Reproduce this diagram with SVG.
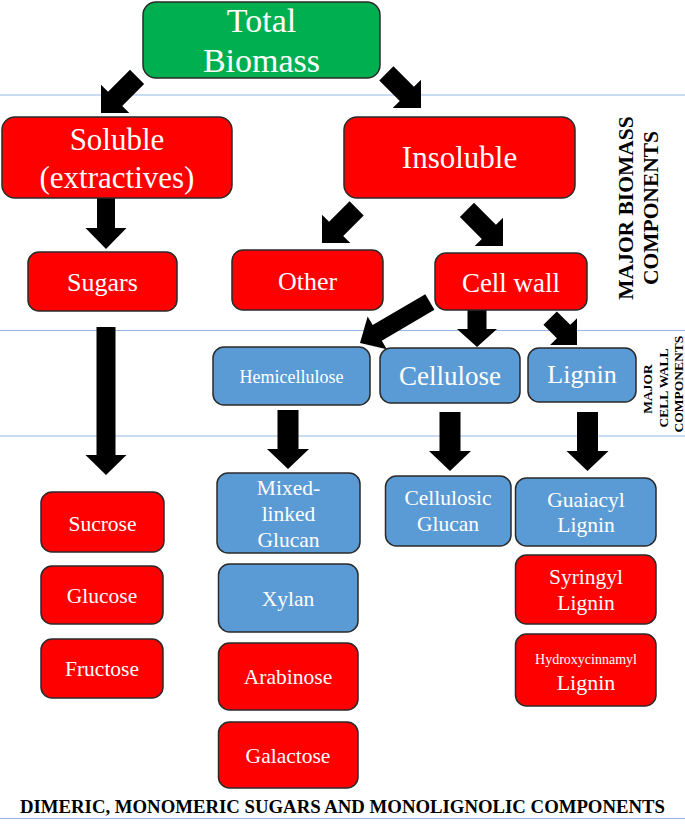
<svg xmlns="http://www.w3.org/2000/svg" width="685" height="824" viewBox="0 0 685 824">
<style>
.bg{fill:#ffffff}
.hl{stroke:#95b9e4;stroke-width:1.2;fill:none}
.box{stroke:#2a2a2a;stroke-width:1.5}
.g{fill:#00b050}
.r{fill:#ff0000}
.b{fill:#5b9bd5}
.t{font-family:"Liberation Serif","Times New Roman",serif;fill:#ffffff;text-anchor:middle}
.lab{font-family:"Liberation Serif","Times New Roman",serif;fill:#000000;font-weight:bold;text-anchor:middle}
.arr{fill:#000000}
</style>
<rect class="bg" x="0" y="0" width="685" height="824"/>
<g id="guides">
<line class="hl" x1="0" y1="95" x2="685" y2="95"/>
<line class="hl" x1="0" y1="330.5" x2="685" y2="330.5"/>
<line class="hl" x1="0" y1="436" x2="685" y2="436"/>
<line class="hl" x1="0" y1="818.5" x2="685" y2="818.5"/>
</g>
<g id="connectors">
<polygon class="arr" transform="translate(101,113) rotate(45)" points="-10,-51 10,-51 10,-20 20,-20 0,0 -20,-20 -10,-20"/>
<polygon class="arr" transform="translate(421,108) rotate(-45)" points="-10,-49 10,-49 10,-20 20,-20 0,0 -20,-20 -10,-20"/>
<polygon class="arr" transform="translate(106,249)" points="-9,-51 9,-51 9,-21 20.5,-21 0,0 -20.5,-21 -9,-21"/>
<polygon class="arr" transform="translate(106,475)" points="-9.5,-148 9.5,-148 9.5,-20 20.5,-20 0,0 -20.5,-20 -9.5,-20"/>
<polygon class="arr" transform="translate(322,243) rotate(45)" points="-10,-49 10,-49 10,-20 20,-20 0,0 -20,-20 -10,-20"/>
<polygon class="arr" transform="translate(503,246) rotate(-45)" points="-10,-51 10,-51 10,-20 20,-20 0,0 -20,-20 -10,-20"/>
<polygon class="arr" transform="translate(360,343) rotate(59.6)" points="-9,-81 9,-81 9,-20 19,-20 0,0 -19,-20 -9,-20"/>
<polygon class="arr" transform="translate(477,347)" points="-9.5,-37 9.5,-37 9.5,-18 20,-18 0,0 -20,-18 -9.5,-18"/>
<polygon class="arr" transform="translate(577,345) rotate(-45)" points="-9.5,-38 9.5,-38 9.5,-19 19,-19 0,0 -19,-19 -9.5,-19"/>
<polygon class="arr" transform="translate(288,469)" points="-10.5,-59 10.5,-59 10.5,-20 21,-20 0,0 -21,-20 -10.5,-20"/>
<polygon class="arr" transform="translate(450,471)" points="-10.5,-59 10.5,-59 10.5,-20 21,-20 0,0 -21,-20 -10.5,-20"/>
<polygon class="arr" transform="translate(587.5,471)" points="-10.5,-59 10.5,-59 10.5,-20 21,-20 0,0 -21,-20 -10.5,-20"/>
</g>
<g id="total-biomass">
<rect class="box g" x="143" y="2" width="237" height="76" rx="13"/>
<text class="t" x="261.5" y="32" font-size="34">Total</text>
<text class="t" x="261.5" y="72" font-size="34">Biomass</text>
</g>
<g id="soluble">
<rect class="box r" x="2" y="117" width="230" height="81" rx="13"/>
<text class="t" x="117" y="150" font-size="31">Soluble</text>
<text class="t" x="117" y="188" font-size="31">(extractives)</text>
</g>
<g id="insoluble">
<rect class="box r" x="344" y="117" width="231" height="81" rx="13"/>
<text class="t" x="459.5" y="168" font-size="31">Insoluble</text>
</g>
<g id="sugars">
<rect class="box r" x="28" y="252" width="149" height="59" rx="11"/>
<text class="t" x="102.5" y="291" font-size="26">Sugars</text>
</g>
<g id="other">
<rect class="box r" x="232" y="250" width="151" height="60" rx="11"/>
<text class="t" x="307.5" y="290" font-size="26">Other</text>
</g>
<g id="cell-wall">
<rect class="box r" x="435" y="253" width="152" height="57" rx="11"/>
<text class="t" x="511" y="292" font-size="27">Cell wall</text>
</g>
<g id="hemicellulose">
<rect class="box b" x="213" y="347" width="157" height="58" rx="11"/>
<text class="t" x="291.5" y="383" font-size="18">Hemicellulose</text>
</g>
<g id="cellulose">
<rect class="box b" x="380" y="348" width="140" height="55" rx="11"/>
<text class="t" x="450" y="385" font-size="27">Cellulose</text>
</g>
<g id="lignin">
<rect class="box b" x="528" y="348" width="108" height="54" rx="11"/>
<text class="t" x="582" y="383" font-size="26">Lignin</text>
</g>
<g id="mixed-linked-glucan">
<rect class="box b" x="217" y="473" width="143" height="80" rx="11"/>
<text class="t" x="288.5" y="495" font-size="21.5">Mixed-</text>
<text class="t" x="288.5" y="521" font-size="21.5">linked</text>
<text class="t" x="288.5" y="547" font-size="21.5">Glucan</text>
</g>
<g id="xylan">
<rect class="box b" x="218.5" y="564" width="139.5" height="68" rx="11"/>
<text class="t" x="288" y="606" font-size="21.5">Xylan</text>
</g>
<g id="arabinose">
<rect class="box r" x="218.5" y="643" width="139.5" height="67" rx="11"/>
<text class="t" x="288" y="684" font-size="21.5">Arabinose</text>
</g>
<g id="galactose">
<rect class="box r" x="218.5" y="722" width="139.5" height="66" rx="11"/>
<text class="t" x="288" y="763" font-size="21.5">Galactose</text>
</g>
<g id="cellulosic-glucan">
<rect class="box b" x="385.5" y="476" width="125.5" height="70" rx="11"/>
<text class="t" x="448" y="505" font-size="21.5">Cellulosic</text>
<text class="t" x="448" y="531" font-size="21.5">Glucan</text>
</g>
<g id="guaiacyl-lignin">
<rect class="box b" x="515.5" y="478" width="140.5" height="68" rx="11"/>
<text class="t" x="586" y="507" font-size="21.5">Guaiacyl</text>
<text class="t" x="586" y="532" font-size="21.5">Lignin</text>
</g>
<g id="syringyl-lignin">
<rect class="box r" x="515.5" y="555" width="140.5" height="69" rx="11"/>
<text class="t" x="586" y="584" font-size="21.5">Syringyl</text>
<text class="t" x="586" y="610" font-size="21.5">Lignin</text>
</g>
<g id="hydroxycinnamyl-lignin">
<rect class="box r" x="515.5" y="634" width="140.5" height="72" rx="11"/>
<text class="t" x="586" y="664" font-size="14">Hydroxycinnamyl</text>
<text class="t" x="586" y="690" font-size="22">Lignin</text>
</g>
<g id="sucrose">
<rect class="box r" x="41" y="492" width="123" height="60" rx="11"/>
<text class="t" x="102.5" y="531" font-size="21.5">Sucrose</text>
</g>
<g id="glucose">
<rect class="box r" x="41" y="566" width="122" height="58" rx="11"/>
<text class="t" x="102" y="603" font-size="21.5">Glucose</text>
</g>
<g id="fructose">
<rect class="box r" x="41" y="639" width="122" height="59" rx="11"/>
<text class="t" x="102" y="676" font-size="21.5">Fructose</text>
</g>
<g id="labels">
<text class="lab" font-size="21.5" transform="translate(633,208) rotate(-90)">MAJOR BIOMASS</text>
<text class="lab" font-size="21.5" transform="translate(658,208) rotate(-90)">COMPONENTS</text>
<text class="lab" font-size="13.5" transform="translate(652,389) rotate(-90)">MAJOR</text>
<text class="lab" font-size="13.5" transform="translate(667.5,388) rotate(-90)">CELL WALL</text>
<text class="lab" font-size="13.5" transform="translate(683,384) rotate(-90)">COMPONENTS</text>
<text class="lab" font-size="19" x="342.5" y="813" textLength="645" lengthAdjust="spacingAndGlyphs">DIMERIC, MONOMERIC SUGARS AND MONOLIGNOLIC COMPONENTS</text>
</g>
</svg>
